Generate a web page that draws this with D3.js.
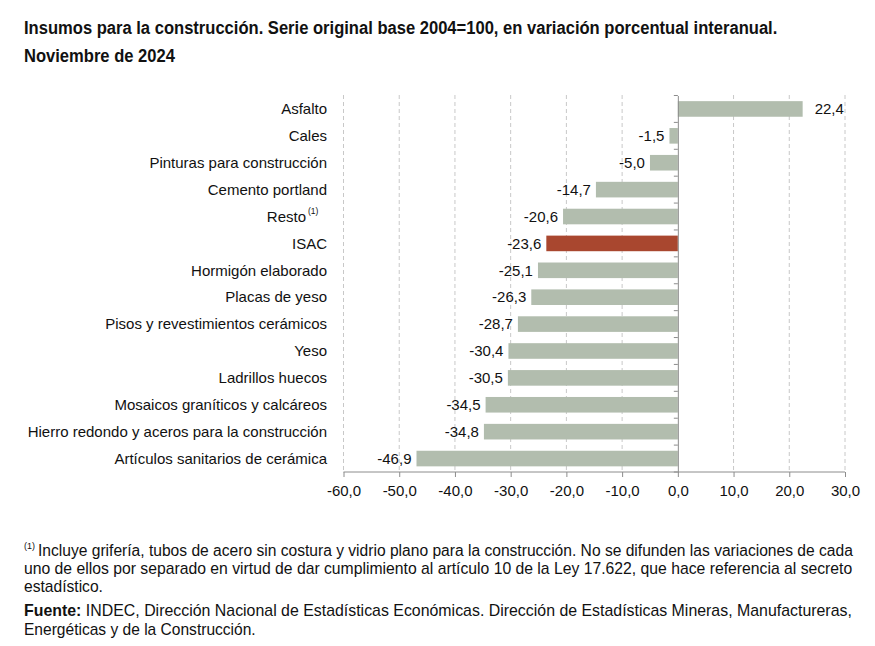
<!DOCTYPE html>
<html><head><meta charset="utf-8">
<script src="https://cdn.jsdelivr.net/npm/d3@7"></script>
<style>body{margin:0;background:#fff}</style>
</head><body>
<script>
const categories = ["Asfalto","Cales","Pinturas para construcción","Cemento portland","Resto","ISAC","Hormigón elaborado","Placas de yeso","Pisos y revestimientos cerámicos","Yeso","Ladrillos huecos","Mosaicos graníticos y calcáreos","Hierro redondo y aceros para la construcción","Artículos sanitarios de cerámica"];
const values = [22.4,-1.5,-5.0,-14.7,-20.6,-23.6,-25.1,-26.3,-28.7,-30.4,-30.5,-34.5,-34.8,-46.9];
const xTicks = [-60,-50,-40,-30,-20,-10,0,10,20,30];
const highlight = "ISAC";
const titleLines = ["Insumos para la construcción. Serie original base 2004=100, en variación porcentual interanual.","Noviembre de 2024"];
const noteLines = ["Incluye grifería, tubos de acero sin costura y vidrio plano para la construcción. No se difunden las variaciones de cada","uno de ellos por separado en virtud de dar cumplimiento al artículo 10 de la Ley 17.622, que hace referencia al secreto","estadístico."];

const W=875,H=646;
const svg=d3.select("body").append("svg").attr("width",W).attr("height",H);
const fmt=v=>v.toFixed(1).replace(".",",");
const sans="Liberation Sans, Arial, sans-serif";

// draw a text line horizontally scaled to fit a target width
function fitText(x0,y0,width,size,bold,build){
  const g=svg.append("g");
  const t=g.append("text").attr("x",0).attr("y",0)
    .attr("font-family",sans).attr("font-size",size).attr("fill","#111")
    .attr("font-weight",bold?"bold":null);
  build(t);
  const w=t.node().getComputedTextLength();
  g.attr("transform",`translate(${x0},${y0}) scale(${width/w},1)`);
}

// title
const titleW=[754,151];
titleLines.forEach((s,i)=>fitText(24,34+i*28,titleW[i],19,true,t=>t.text(s)));

const x=d3.scaleLinear().domain([-60,30]).range([343.5,845]);
const y=d3.scaleBand().domain(categories).range([95.5,472]).paddingInner(0.42).paddingOuter(0.21);

// gridlines
svg.append("g").selectAll("line").data(xTicks.filter(t=>t!==0)).join("line")
  .attr("x1",d=>x(d)).attr("x2",d=>x(d)).attr("y1",95).attr("y2",472)
  .attr("stroke","#c8c8c8").attr("stroke-dasharray","4,3").attr("stroke-width",1);

// bars
svg.append("g").selectAll("rect").data(values).join("rect")
  .attr("x",d=>x(Math.min(0,d))).attr("width",d=>Math.abs(x(d)-x(0)))
  .attr("y",(d,i)=>y(categories[i])).attr("height",y.bandwidth())
  .attr("fill",(d,i)=>categories[i]===highlight?"#a9472f":"#b2bdae");

// zero axis
const ya=svg.append("g").attr("transform",`translate(${x(0)},0)`)
  .call(d3.axisLeft(y).tickSize(0).tickFormat(""));
ya.select(".domain").attr("stroke","#8c8c8c");
const bounds=categories.map(c=>y(c)-y.step()*y.paddingInner()/2).concat([472]);
svg.append("g").selectAll("line").data(bounds).join("line")
  .attr("x1",x(0)-4).attr("x2",x(0)).attr("y1",d=>d).attr("y2",d=>d).attr("stroke","#8c8c8c");

// bottom axis
const xa=svg.append("g").attr("transform","translate(0,472)")
  .call(d3.axisBottom(x).tickValues(xTicks).tickSize(5).tickPadding(8).tickFormat(fmt));
xa.select(".domain").attr("stroke","#8c8c8c").attr("d",`M${x(-60)},0H${x(30)}`);
xa.selectAll("line").attr("stroke","#8c8c8c");
xa.selectAll("text").attr("font-family",sans).attr("font-size",15).attr("fill","#111");

// category labels
const cl=svg.append("g").selectAll("text").data(categories).join("text")
  .attr("x",327).attr("y",d=>y(d)+y.bandwidth()/2).attr("dy","0.35em")
  .attr("text-anchor","end").attr("font-family",sans)
  .attr("font-size",15).attr("fill","#111");
cl.each(function(d){
  const t=d3.select(this);
  if(d==="Resto"){
    t.attr("x",306).text(d);
    svg.append("text").attr("x",308).attr("y",y(d)+y.bandwidth()/2-3)
      .attr("font-family",sans).attr("font-size",8.5).attr("fill","#111").text("(1)");
  } else t.text(d);
});

// value labels
svg.append("g").selectAll("text").data(values).join("text")
  .attr("x",d=>d>=0?x(d)+12:x(d)-5).attr("y",(d,i)=>y(categories[i])+y.bandwidth()/2).attr("dy","0.35em")
  .attr("text-anchor",d=>d>=0?"start":"end")
  .attr("font-family",sans).attr("font-size",15).attr("fill","#111")
  .text(fmt);

// footnote
svg.append("text").attr("x",24).attr("y",549).attr("font-family",sans).attr("font-size",9).attr("fill","#111").text("(1)");
const noteW=[815,829,79];
noteLines.forEach((s,i)=>fitText(i==0?38:24,556+i*18,noteW[i],16,false,t=>t.text(s)));
fitText(24,616,829,16,false,t=>{
  t.append("tspan").attr("font-weight","bold").text("Fuente:");
  t.append("tspan").text(" INDEC, Dirección Nacional de Estadísticas Económicas. Dirección de Estadísticas Mineras, Manufactureras,");
});
fitText(24,635,232,16,false,t=>t.text("Energéticas y de la Construcción."));
</script>
</body></html>
